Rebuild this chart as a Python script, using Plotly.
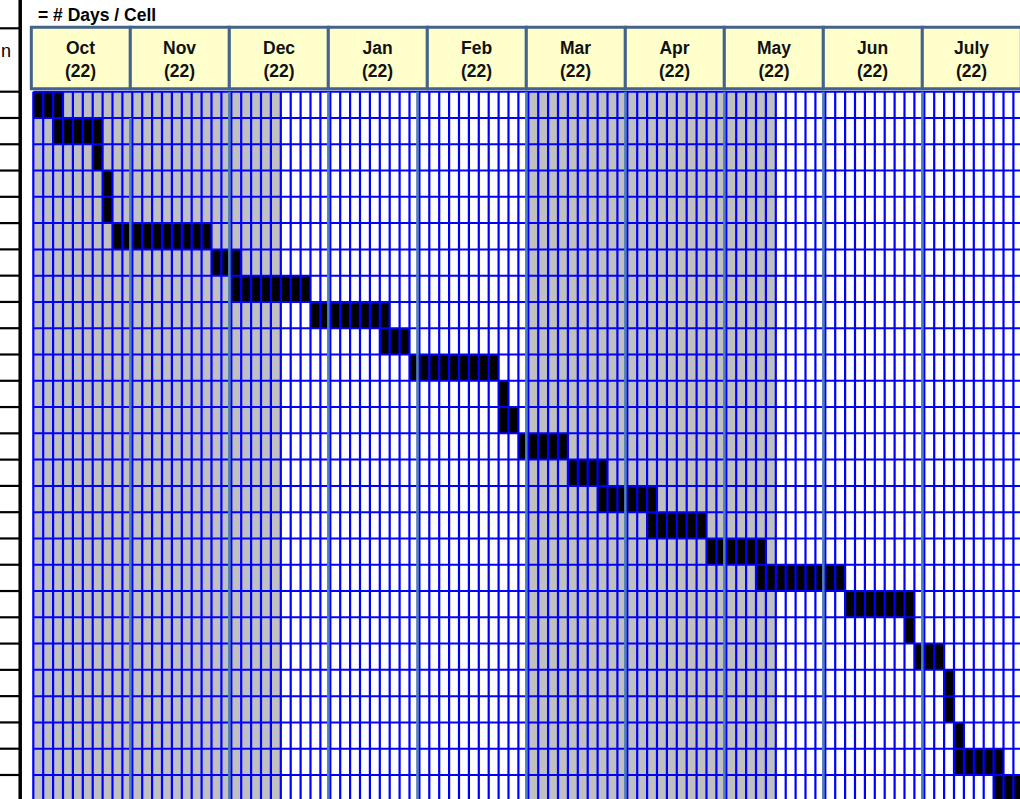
import plotly.graph_objects as go

# ---------------- data ----------------
months = ["Oct", "Nov", "Dec", "Jan", "Feb", "Mar", "Apr", "May", "Jun", "July"]
month_days = [22, 22, 22, 22, 22, 22, 22, 22, 22, 22]
task_start = [0, 2, 6, 7, 7, 8, 18, 20, 28, 35, 38, 47, 47, 49, 54, 57, 62, 68,
              73, 82, 88, 89, 92, 92, 93, 93, 97]
task_cells = [3, 5, 1, 1, 1, 10, 3, 8, 8, 3, 9, 1, 2, 5, 4, 6, 6, 6,
              9, 7, 1, 3, 1, 1, 1, 5, 3]
shade_start = [0, 50]
shade_end = [25, 75]
title_text = "= # Days / Cell"
left_header = "n"

# ---------------- geometry ----------------
W, H = 1020, 799
CELLS_PER_MONTH = 10
N_CELLS = CELLS_PER_MONTH * len(months)
N_ROWS = 28
X0PX, CELLW = 33.3, 9.9
Y0PX, ROWH = 91.7, 26.28


def xpx(p):
    return (p - X0PX) / CELLW


def ypx(p):
    return (p - Y0PX) / ROWH


xr = [xpx(0), xpx(W)]
yr = [ypx(H), ypx(0)]

GRID_BLUE = "#0000FF"
DIV_BLUE = "#4F7FB8"
HDR_BORDER = "#44638C"
HDR_FILL = "#FFFFCC"
SHADE = "#C0C0C0"
FONT = "Liberation Sans, Arial, sans-serif"

fig = go.Figure()

# black task cells
fig.add_trace(go.Bar(
    y=[i + 0.5 for i in range(len(task_start))],
    x=task_cells,
    base=task_start,
    orientation="h",
    width=[1] * len(task_start),
    marker=dict(color="#000000", line=dict(width=0)),
    hoverinfo="skip",
))

# blue grid on top
hx, hy = [], []
for r in range(N_ROWS + 1):
    hx += [0, N_CELLS, None]
    hy += [r, r, None]
vx, vy = [], []
for c in range(N_CELLS + 1):
    vx += [c, c, None]
    vy += [0, N_ROWS + 1, None]
fig.add_trace(go.Scatter(x=hx, y=hy, mode="lines",
                         line=dict(color=GRID_BLUE, width=2), hoverinfo="skip"))
fig.add_trace(go.Scatter(x=vx, y=vy, mode="lines",
                         line=dict(color=GRID_BLUE, width=2.2), hoverinfo="skip"))

# month divider lines (steel blue)
divider_shift = {4: -1.0}
divider_start_row = {1: 1}
dx, dy = [], []
for m in range(1, len(months)):
    pos = CELLS_PER_MONTH * m - 0.2 + divider_shift.get(m, 0.0)
    dx += [pos, pos, None]
    dy += [divider_start_row.get(m, 0), N_ROWS + 1, None]
fig.add_trace(go.Scatter(x=dx, y=dy, mode="lines",
                         line=dict(color=DIV_BLUE, width=2.5), hoverinfo="skip"))

# left table lines
lx, ly = [], []
for r in range(N_ROWS + 1):
    lx += [xpx(0), xpx(19), None]
    ly += [r, r, None]
lx += [xpx(0), xpx(19), None]
ly += [ypx(28.3), ypx(28.3), None]
fig.add_trace(go.Scatter(x=lx, y=ly, mode="lines",
                         line=dict(color="#000000", width=2.2), hoverinfo="skip"))
fig.add_trace(go.Scatter(x=[xpx(20.2), xpx(20.2)], y=[yr[1], yr[0]], mode="lines",
                         line=dict(color="#000000", width=3.5), hoverinfo="skip"))

shapes = []
# shading
for s0, s1 in zip(shade_start, shade_end):
    shapes.append(dict(type="rect", xref="x", yref="y", x0=s0, x1=s1,
                       y0=0, y1=N_ROWS + 1, fillcolor=SHADE,
                       line=dict(width=0), layer="below"))
# header boxes
hdr_top, hdr_bot = ypx(27.3), ypx(88.7)
for i, m in enumerate(months):
    shapes.append(dict(type="rect", xref="x", yref="y",
                       x0=CELLS_PER_MONTH * i - 0.2,
                       x1=CELLS_PER_MONTH * (i + 1) - 0.2,
                       y0=hdr_top, y1=hdr_bot, fillcolor=HDR_FILL,
                       line=dict(color=HDR_BORDER, width=3), layer="above"))

annotations = []
for i, (m, d) in enumerate(zip(months, month_days)):
    annotations.append(dict(
        x=CELLS_PER_MONTH * i + 4.8, y=ypx(59.0), xref="x", yref="y",
        text=f"<b>{m}</b><br><b>({d})</b>", showarrow=False,
        xanchor="center", yanchor="middle", align="center",
        font=dict(family=FONT, size=17.5, color="#111111")))
annotations.append(dict(
    x=xpx(35.5), y=ypx(14.5), xref="x", yref="y", text=f"<b>{title_text}</b>",
    showarrow=False, xanchor="left", yanchor="middle",
    font=dict(family=FONT, size=17.5, color="#000000")))
annotations.append(dict(
    x=xpx(0.2), y=ypx(50.5), xref="x", yref="y", text=left_header,
    showarrow=False, xanchor="left", yanchor="middle", borderpad=0,
    font=dict(family=FONT, size=18, color="#000000")))

fig.update_layout(
    width=W, height=H,
    margin=dict(l=0, r=0, t=0, b=0, pad=0),
    plot_bgcolor="#FFFFFF", paper_bgcolor="#FFFFFF",
    showlegend=False,
    shapes=shapes, annotations=annotations,
    xaxis=dict(range=xr, visible=False, showgrid=False, zeroline=False, fixedrange=True),
    yaxis=dict(range=yr, visible=False, showgrid=False, zeroline=False, fixedrange=True),
    bargap=0,
)

fig.write_html("out.html",
               config={"displayModeBar": False, "staticPlot": True},
               post_script="document.body.style.margin='0';document.body.style.overflow='hidden';")
